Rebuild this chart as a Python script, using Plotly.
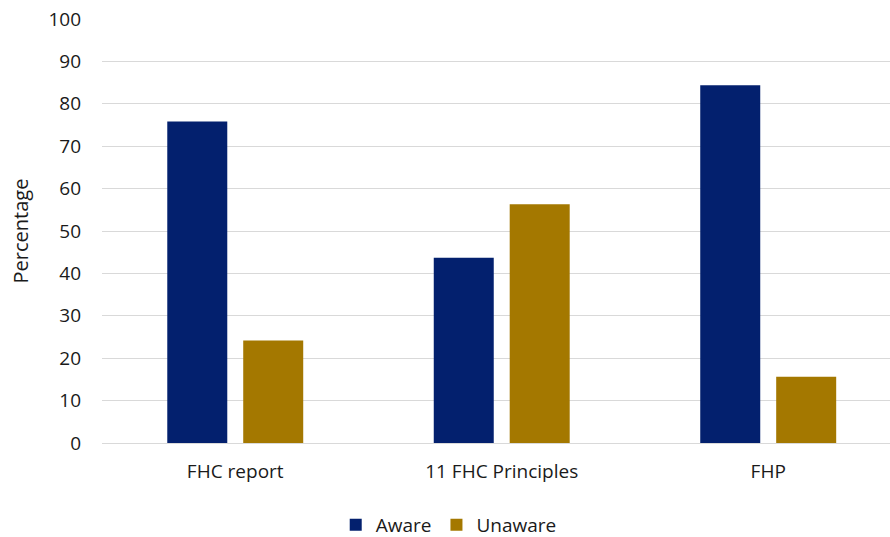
import plotly.graph_objects as go

categories = ["FHC report", "11 FHC Principles", "FHP"]
aware = [75.8, 43.7, 84.4]
unaware = [24.2, 56.3, 15.6]
y_ticks = [0, 10, 20, 30, 40, 50, 60, 70, 80, 90, 100]

font_family = "Open Sans"

fig = go.Figure()
fig.add_trace(go.Bar(name="Aware", x=categories, y=aware, marker=dict(color="#03206E", line=dict(width=0))))
fig.add_trace(go.Bar(name="Unaware", x=categories, y=unaware, marker=dict(color="#A47800", line=dict(width=0))))

fig.update_layout(
    width=890, height=537,
    margin=dict(l=102, r=0, t=19, b=94, autoexpand=False),
    paper_bgcolor="white", plot_bgcolor="white",
    barmode="group", bargap=0.43, bargroupgap=0.21,
    font=dict(family=font_family, size=20, color="#1a1a1a"),
    showlegend=True,
    legend=dict(orientation="h", x=0.44, xanchor="center", y=-0.193, yanchor="middle",
                font=dict(size=19), traceorder="normal"),
    xaxis=dict(range=[-0.5, 2.457], showgrid=False, showline=False, ticks="",
               ticklabelstandoff=15, tickfont=dict(size=19)),
    yaxis=dict(range=[0, 100], tickvals=y_ticks, showgrid=True, gridcolor="#D9D9D9",
               gridwidth=1, zeroline=True, zerolinecolor="#D9D9D9", zerolinewidth=1,
               ticks="", ticklabelstandoff=20,
               title=dict(text="Percentage", font=dict(size=20), standoff=14),
               tickfont=dict(size=19)),
)

fig.write_html("out.html", config={"displayModeBar": False},
               post_script="document.body.style.margin='0';document.body.style.overflow='hidden';")
